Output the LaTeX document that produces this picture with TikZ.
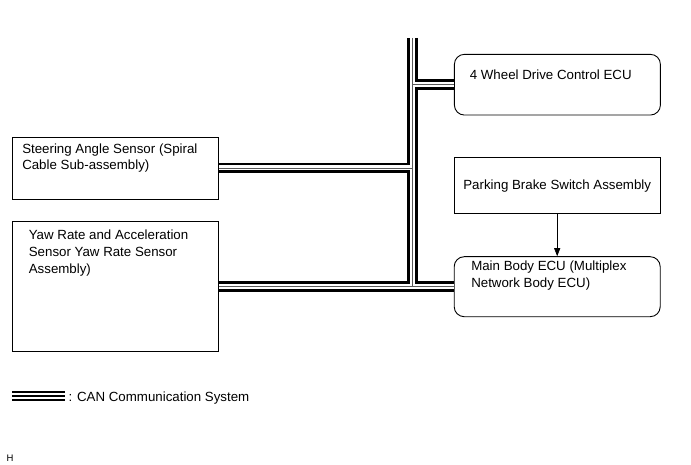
\documentclass[tikz,border=0pt]{standalone}
\usepackage{fontspec}
\setmainfont{Liberation Sans}
\usetikzlibrary{arrows.meta,positioning}

\begin{document}
\begin{tikzpicture}[
  x=1pt,
  y=-1pt,
  font=\fontsize{13.3}{16.6}\selectfont,
  box/.style={
    rectangle,
    draw,
    line width=0.9pt,
    inner sep=0pt,
    minimum width=206pt
  },
  ecu/.style={
    box,
    rounded corners=10pt
  },
  txt/.style={
    align=left,
    inner sep=0pt
  },
  bus/.style={
    draw=gray!70!black,
    line width=0.9pt,
    preaction={
      draw=white,
      line width=5pt,
      preaction={draw=black, line width=10.5pt}
    }
  },
  arr/.style={
    -{Triangle[length=8pt,width=6pt]},
    line width=0.7pt
  }
]
\useasboundingbox (0,0) rectangle (691,465);
\node[ecu, minimum height=60.7pt] (fwd) at (557.4,84.7) {};
\node[box, minimum height=62pt] (steer) at (115.8,168) {};
\node[box, minimum height=130pt] (yaw) at (115.5,286.7) {};
\node[
  box,
  minimum height=56.7pt
] (park) at (557.2,185.6)
{Parking Brake Switch Assembly};
\node[ecu, minimum height=60pt] (main) at (557.2,286.7) {};
\node[
  txt,
  below right=15.5pt and 15.7pt of fwd.north west
] (fwdtxt)
{4 Wheel Drive Control ECU};
\node[
  txt,
  below right=6.9pt and 9.7pt of steer.north west
] (steertxt)
{Steering Angle Sensor (Spiral\\Cable Sub-assembly)};
\node[
  txt,
  below right=8.9pt and 16.6pt of yaw.north west
] (yawtxt)
{Yaw Rate and Acceleration\\Sensor Yaw Rate Sensor\\Assembly)};
\node[
  txt,
  below right=4.6pt and 17.3pt of main.north west
] (maintxt)
{Main Body ECU (Multiplex\\Network Body ECU)};
\coordinate (bustop) at (412.5,38);
\draw[bus]
  (bustop) -- (bustop |- main.west)
  (bustop |- fwd.west) -- (fwd.west)
  (steer.east) -- (steer.east -| bustop)
  (yaw.east) -- (main.west);
\draw[arr] (park.south) -- (main.north);
\node[txt, anchor=base west] (legtxt) at (68.3,401)
{: CAN Communication System};
\draw[line width=2pt] (12.3,392.3) -- (65,392.3);
\draw[line width=1.7pt] (12.3,395.9) -- (65,395.9);
\draw[line width=2.7pt] (12.3,400) -- (65,400);
\node[
  txt,
  anchor=base west,
  font=\fontsize{9.5}{11}\selectfont
] (hmark) at (6.5,461.7) {H};
\end{tikzpicture}
\end{document}
